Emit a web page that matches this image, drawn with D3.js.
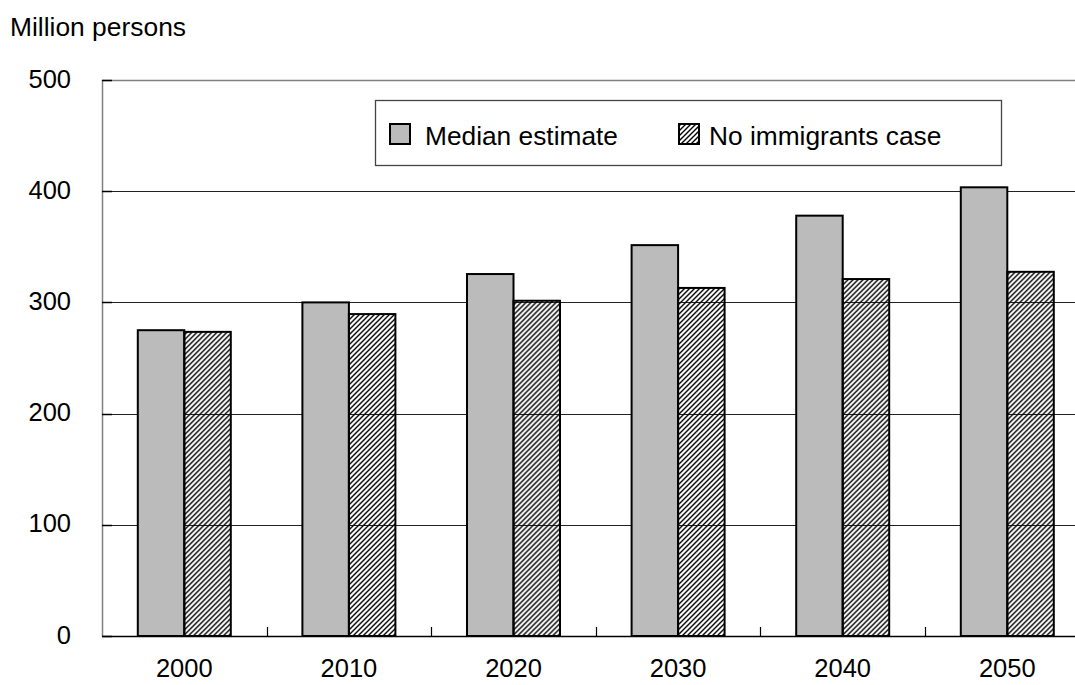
<!DOCTYPE html>
<html>
<head>
<meta charset="utf-8">
<script src="https://cdn.jsdelivr.net/npm/d3@7"></script>
<style>
  body { margin: 0; background: #fff; }
  svg { display: block; font-family: "Liberation Sans", Arial, sans-serif; }
</style>
</head>
<body>
<div id="chart"></div>
<script>
// Data
const years = ["2000", "2010", "2020", "2030", "2040", "2050"];
const medianEstimate = [275, 300, 325.5, 351.5, 378, 403.5];
const noImmigrants = [273.5, 289.5, 301.5, 313, 321, 327.5];
const yTicks = [0, 100, 200, 300, 400, 500];
const seriesNames = ["Median estimate", "No immigrants case"];

const W = 1075, H = 685;
// plot area runs past the right edge of the picture (the original is cropped)
const plot = {left: 102, top: 80, bottom: 636, right: 1089.6};

const svg = d3.select("#chart").append("svg")
  .attr("width", W).attr("height", H);

// hatch pattern
const defs = svg.append("defs");
defs.append("pattern")
  .attr("id", "hatch")
  .attr("patternUnits", "userSpaceOnUse")
  .attr("width", 5).attr("height", 5)
  .append("path")
    .attr("d", "M-1,1 L1,-1 M0,5 L5,0 M4,6 L6,4")
    .attr("stroke", "#000")
    .attr("stroke-width", 1.4);

const x0 = d3.scaleBand().domain(years).range([plot.left, plot.right]);
const barW = 46.5;
const y = d3.scaleLinear().domain([0, 500]).range([plot.bottom, plot.top]);

// gridlines
svg.append("g").selectAll("line")
  .data(yTicks.filter(d => d > 0 && d < 500))
  .enter().append("line")
    .attr("x1", plot.left).attr("x2", W)
    .attr("y1", d => Math.round(y(d)) + 0.5).attr("y2", d => Math.round(y(d)) + 0.5)
    .attr("stroke", "#222").attr("stroke-width", 1);

// top border
svg.append("line")
  .attr("x1", plot.left).attr("x2", W)
  .attr("y1", plot.top + 0.5).attr("y2", plot.top + 0.5)
  .attr("stroke", "#808080").attr("stroke-width", 1.5);

// bars
const groups = svg.append("g").selectAll("g")
  .data(years)
  .enter().append("g")
    .attr("transform", d => "translate(" + (x0(d) + x0.bandwidth() / 2) + ",0)");

groups.append("rect")
  .attr("x", -barW)
  .attr("width", barW)
  .attr("y", (d, i) => y(medianEstimate[i]))
  .attr("height", (d, i) => plot.bottom - y(medianEstimate[i]))
  .attr("fill", "#bbbbbb")
  .attr("stroke", "#000").attr("stroke-width", 2);

groups.append("rect")
  .attr("x", 0)
  .attr("width", barW)
  .attr("y", (d, i) => y(noImmigrants[i]))
  .attr("height", (d, i) => plot.bottom - y(noImmigrants[i]))
  .attr("fill", "url(#hatch)")
  .attr("stroke", "#000").attr("stroke-width", 2);

// y axis
svg.append("line")
  .attr("x1", plot.left + 0.5).attr("x2", plot.left + 0.5)
  .attr("y1", plot.top).attr("y2", plot.bottom)
  .attr("stroke", "#808080").attr("stroke-width", 1.5);

svg.append("g").selectAll("line")
  .data(yTicks)
  .enter().append("line")
    .attr("x1", plot.left).attr("x2", plot.left + 10)
    .attr("y1", d => Math.round(y(d)) + 0.5).attr("y2", d => Math.round(y(d)) + 0.5)
    .attr("stroke", "#000").attr("stroke-width", 1.5);

svg.append("g").selectAll("text")
  .data(yTicks)
  .enter().append("text")
    .attr("x", 71)
    .attr("y", d => y(d))
    .attr("dy", "0.3em")
    .attr("text-anchor", "end")
    .attr("font-size", "25.5px")
    .text(d => d);

// x axis
svg.append("line")
  .attr("x1", plot.left).attr("x2", W)
  .attr("y1", plot.bottom + 0.5).attr("y2", plot.bottom + 0.5)
  .attr("stroke", "#000").attr("stroke-width", 1.5);

svg.append("g").selectAll("line")
  .data(years.slice(1))
  .enter().append("line")
    .attr("x1", d => Math.round(x0(d)) + 0.5).attr("x2", d => Math.round(x0(d)) + 0.5)
    .attr("y1", plot.bottom - 9).attr("y2", plot.bottom)
    .attr("stroke", "#000").attr("stroke-width", 1.2);

svg.append("g").selectAll("text")
  .data(years)
  .enter().append("text")
    .attr("x", d => x0(d) + x0.bandwidth() / 2)
    .attr("y", 677)
    .attr("text-anchor", "middle")
    .attr("font-size", "25.5px")
    .text(d => d);

// unit label
svg.append("text")
  .attr("x", 10).attr("y", 36)
  .attr("font-size", "26.4px")
  .text("Million persons");

// legend
const lg = svg.append("g");
lg.append("rect")
  .attr("x", 375.5).attr("y", 100.5)
  .attr("width", 626).attr("height", 65)
  .attr("fill", "#fff")
  .attr("stroke", "#444").attr("stroke-width", 1.3);

const legendItems = [
  {name: seriesNames[0], fill: "#bbbbbb", sx: 390, tx: 425},
  {name: seriesNames[1], fill: "url(#hatch)", sx: 679, tx: 709}
];
legendItems.forEach(it => {
  lg.append("rect")
    .attr("x", it.sx).attr("y", 124)
    .attr("width", 20).attr("height", 20)
    .attr("fill", it.fill)
    .attr("stroke", "#000").attr("stroke-width", 2);
  lg.append("text")
    .attr("x", it.tx).attr("y", 145)
    .attr("font-size", "26.3px")
    .text(it.name);
});
</script>
</body>
</html>
